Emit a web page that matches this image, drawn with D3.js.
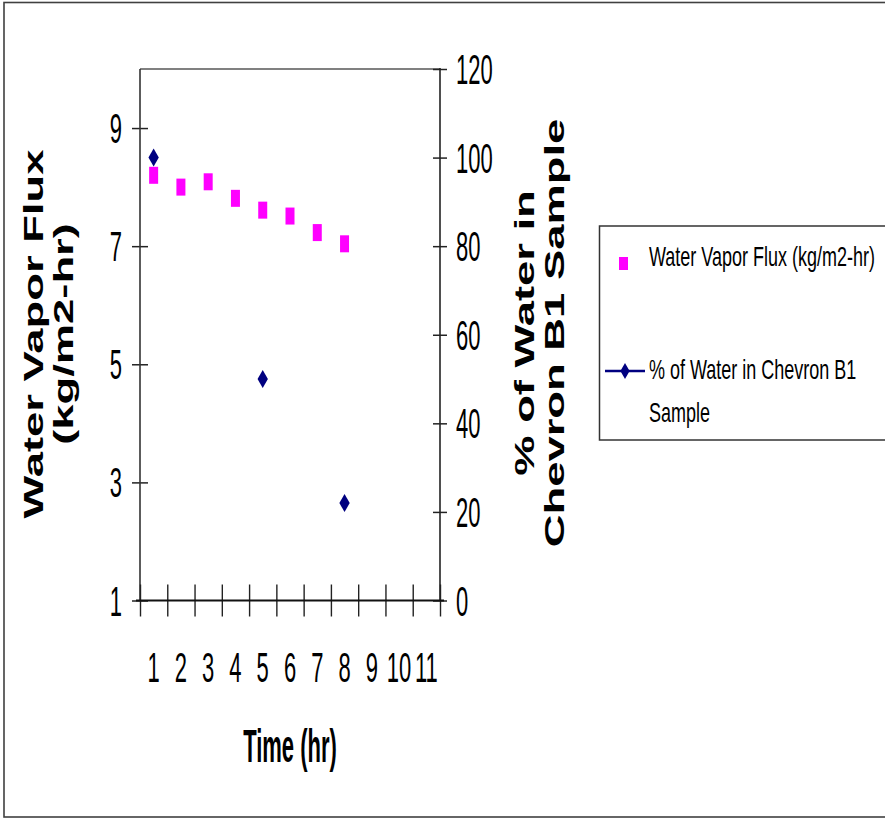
<!DOCTYPE html>
<html>
<head>
<meta charset="utf-8">
<script src="https://cdn.jsdelivr.net/npm/d3@7"></script>
<style>
  html, body { margin: 0; padding: 0; background: #fff; }
  svg { display: block; font-family: "Liberation Sans", Arial, sans-serif; }
</style>
</head>
<body>
<div id="chart"></div>
<script>
// ---- data ----
const categories = [1, 2, 3, 4, 5, 6, 7, 8, 9, 10, 11];
const fluxTimes = [1, 2, 3, 4, 5, 6, 7, 8];
const fluxValues = [8.2, 8.0, 8.09, 7.81, 7.61, 7.51, 7.23, 7.04];
const waterTimes = [1, 5, 8];
const waterValues = [100, 50, 22];
const leftTicks = [1, 3, 5, 7, 9];
const rightTicks = [0, 20, 40, 60, 80, 100, 120];
const leftTitle = ["Water Vapor Flux", "(kg/m2-hr)"];
const rightTitle = ["% of Water in", "Chevron B1 Sample"];
const xTitle = "Time (hr)";
const seriesNames = ["Water Vapor Flux (kg/m2-hr)", ["% of Water in Chevron B1", "Sample"]];

// ---- layout ----
const W = 885, H = 819;
const plot = { left: 140, right: 440, top: 69, bottom: 600.5 };

const svg = d3.select("#chart").append("svg").attr("width", W).attr("height", H);
svg.append("rect").attr("width", W).attr("height", H).attr("fill", "#fff");

// outer border
svg.append("rect").attr("x", 4).attr("y", 2.5).attr("width", 890).attr("height", 814.5)
  .attr("fill", "none").attr("stroke", "#404040").attr("stroke-width", 1.6);

const x = d3.scaleLinear().domain([0.5, 11.5]).range([plot.left, plot.right]);
const yL = d3.scaleLinear().domain([1, 10]).range([plot.bottom, plot.top]);
const yR = d3.scaleLinear().domain([0, 120]).range([plot.bottom, plot.top]);

function sText(parent, o) {
  const g = parent.append("g")
    .attr("transform", `translate(${o.x},${o.y}) rotate(${o.rotate || 0}) scale(${o.sx || 1},${o.sy || 1})`);
  return g.append("text")
    .attr("text-anchor", o.anchor || "start")
    .attr("font-size", o.size)
    .attr("font-weight", o.weight || "normal")
    .attr("fill", o.fill || "#000")
    .text(o.text);
}

// plot area top border (gray)
svg.append("line").attr("x1", plot.left).attr("x2", plot.right)
  .attr("y1", plot.top).attr("y2", plot.top)
  .attr("stroke", "#808080").attr("stroke-width", 2.2);

// left axis
const gL = svg.append("g").attr("transform", `translate(${plot.left},0)`)
  .call(d3.axisLeft(yL).tickValues(leftTicks).tickSize(8).tickFormat(""));
gL.select(".domain").remove();
gL.selectAll(".tick line").attr("x1", 8).attr("x2", -8).attr("stroke", "#222").attr("stroke-width", 1.5);
svg.append("line").attr("x1", plot.left).attr("x2", plot.left).attr("y1", plot.top).attr("y2", plot.bottom)
  .attr("stroke", "#333").attr("stroke-width", 1.6);
leftTicks.forEach(v => sText(svg, { x: 122, y: yL(v) + 15, text: String(v), size: 22, sy: 1.9, anchor: "end" }));

// right axis
const gR = svg.append("g").attr("transform", `translate(${plot.right},0)`)
  .call(d3.axisRight(yR).tickValues(rightTicks).tickSize(7).tickFormat(""));
gR.select(".domain").remove();
gR.selectAll(".tick line").attr("x1", -7).attr("x2", 7).attr("stroke", "#222").attr("stroke-width", 1.5);
svg.append("line").attr("x1", plot.right).attr("x2", plot.right).attr("y1", plot.top - 1).attr("y2", plot.bottom)
  .attr("stroke", "#222").attr("stroke-width", 1.6);
rightTicks.forEach(v => sText(svg, { x: 456, y: yR(v) + 15, text: String(v), size: 22, sy: 1.9 }));

// bottom axis
const bounds = d3.range(0.5, 12, 1);
const gB = svg.append("g").attr("transform", `translate(0,${plot.bottom})`)
  .call(d3.axisBottom(x).tickValues(bounds).tickSize(16).tickFormat(""));
gB.select(".domain").remove();
gB.selectAll(".tick line").attr("y1", -16).attr("y2", 16).attr("stroke", "#222").attr("stroke-width", 1.4);
svg.append("line").attr("x1", plot.left - 4).attr("x2", plot.right + 4).attr("y1", plot.bottom).attr("y2", plot.bottom)
  .attr("stroke", "#111").attr("stroke-width", 2);
categories.forEach(c => sText(svg, { x: x(c), y: 682, text: String(c), size: 22, sy: 1.9, anchor: "middle" }));

// axis titles
leftTitle.forEach((t, i) => sText(svg, { x: 43 + i * 30, y: 334, rotate: -90, sx: 1.62, text: t, size: 28, weight: "bold", anchor: "middle" }));
rightTitle.forEach((t, i) => sText(svg, { x: 534 + i * 30, y: 333, rotate: -90, sx: 1.62, text: t, size: 28, weight: "bold", anchor: "middle" }));
sText(svg, { x: 290, y: 762, text: xTitle, size: 22, sy: 2.1, weight: "bold", anchor: "middle" });

// series: flux squares
svg.append("g").selectAll("rect").data(fluxTimes.map((t, i) => [t, fluxValues[i]])).join("rect")
  .attr("x", d => x(d[0]) - 4.5).attr("y", d => yL(d[1]) - 8.5)
  .attr("width", 9).attr("height", 17).attr("fill", "#FF00FF");

// series: water diamonds
const diamond = d3.symbol().type(d3.symbolDiamond).size(93);
svg.append("g").selectAll("path").data(waterTimes.map((t, i) => [t, waterValues[i]])).join("path")
  .attr("d", diamond).attr("transform", d => `translate(${x(d[0])},${yR(d[1])})`)
  .attr("fill", "#000080");

// legend
svg.append("rect").attr("x", 599.5).attr("y", 226).attr("width", 300).attr("height", 214)
  .attr("fill", "#fff").attr("stroke", "#333").attr("stroke-width", 1.5);
svg.append("rect").attr("x", 619).attr("y", 257).attr("width", 9).attr("height", 13).attr("fill", "#FF00FF");
sText(svg, { x: 649, y: 266, text: seriesNames[0], size: 18, sy: 1.55 });
svg.append("line").attr("x1", 605).attr("x2", 645).attr("y1", 371).attr("y2", 371)
  .attr("stroke", "#000080").attr("stroke-width", 2.5);
svg.append("path").attr("d", d3.symbol().type(d3.symbolDiamond).size(74)())
  .attr("transform", "translate(625,371)").attr("fill", "#000080");
seriesNames[1].forEach((t, i) => sText(svg, { x: 649, y: 379 + i * 43, text: t, size: 18, sy: 1.55 }));
</script>
</body>
</html>
